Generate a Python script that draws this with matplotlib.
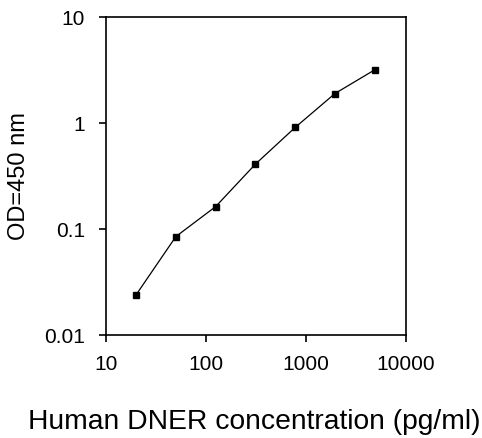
import matplotlib
matplotlib.use("Agg")
import matplotlib.pyplot as plt
from matplotlib.ticker import FixedLocator, FixedFormatter, NullLocator

plt.rcParams['font.family'] = ['Liberation Sans', 'DejaVu Sans']

# standard curve values
conc = [20, 50, 125, 312.5, 781.25, 1953, 4883]
od = [0.024, 0.085, 0.163, 0.41, 0.91, 1.9, 3.18]

x_ticks = [10, 100, 1000, 10000]
x_labels = ["10", "100", "1000", "10000"]
y_ticks = [0.01, 0.1, 1, 10]
y_labels = ["0.01", "0.1", "1", "10"]

fig = plt.figure(figsize=(4.82, 4.38), dpi=100)
ax = fig.add_axes([0.22, 0.235, 0.622, 0.726])

ax.plot(conc, od, color='black', linewidth=0.9, marker='s', markersize=5,
        markerfacecolor='black', markeredgecolor='black')

ax.set_xscale('log')
ax.set_yscale('log')
ax.set_xlim(10, 10000)
ax.set_ylim(0.01, 10)

ax.xaxis.set_major_locator(FixedLocator(x_ticks))
ax.xaxis.set_major_formatter(FixedFormatter(x_labels))
ax.xaxis.set_minor_locator(NullLocator())
ax.yaxis.set_major_locator(FixedLocator(y_ticks))
ax.yaxis.set_major_formatter(FixedFormatter(y_labels))
ax.yaxis.set_minor_locator(NullLocator())

ax.tick_params(axis='both', direction='out', length=5, width=1.2, labelsize=15)
ax.tick_params(axis='x', pad=9)
ax.tick_params(axis='y', pad=10)
for s in ax.spines.values():
    s.set_linewidth(1.2)

ax.set_xlabel("Human DNER concentration (pg/ml)", fontsize=20.3)
ax.set_ylabel("OD=450 nm", fontsize=17)
ax.xaxis.set_label_coords(0.495, -0.232)
ax.yaxis.set_label_coords(-0.255, 0.5)

fig.savefig("out.png", dpi=100)
